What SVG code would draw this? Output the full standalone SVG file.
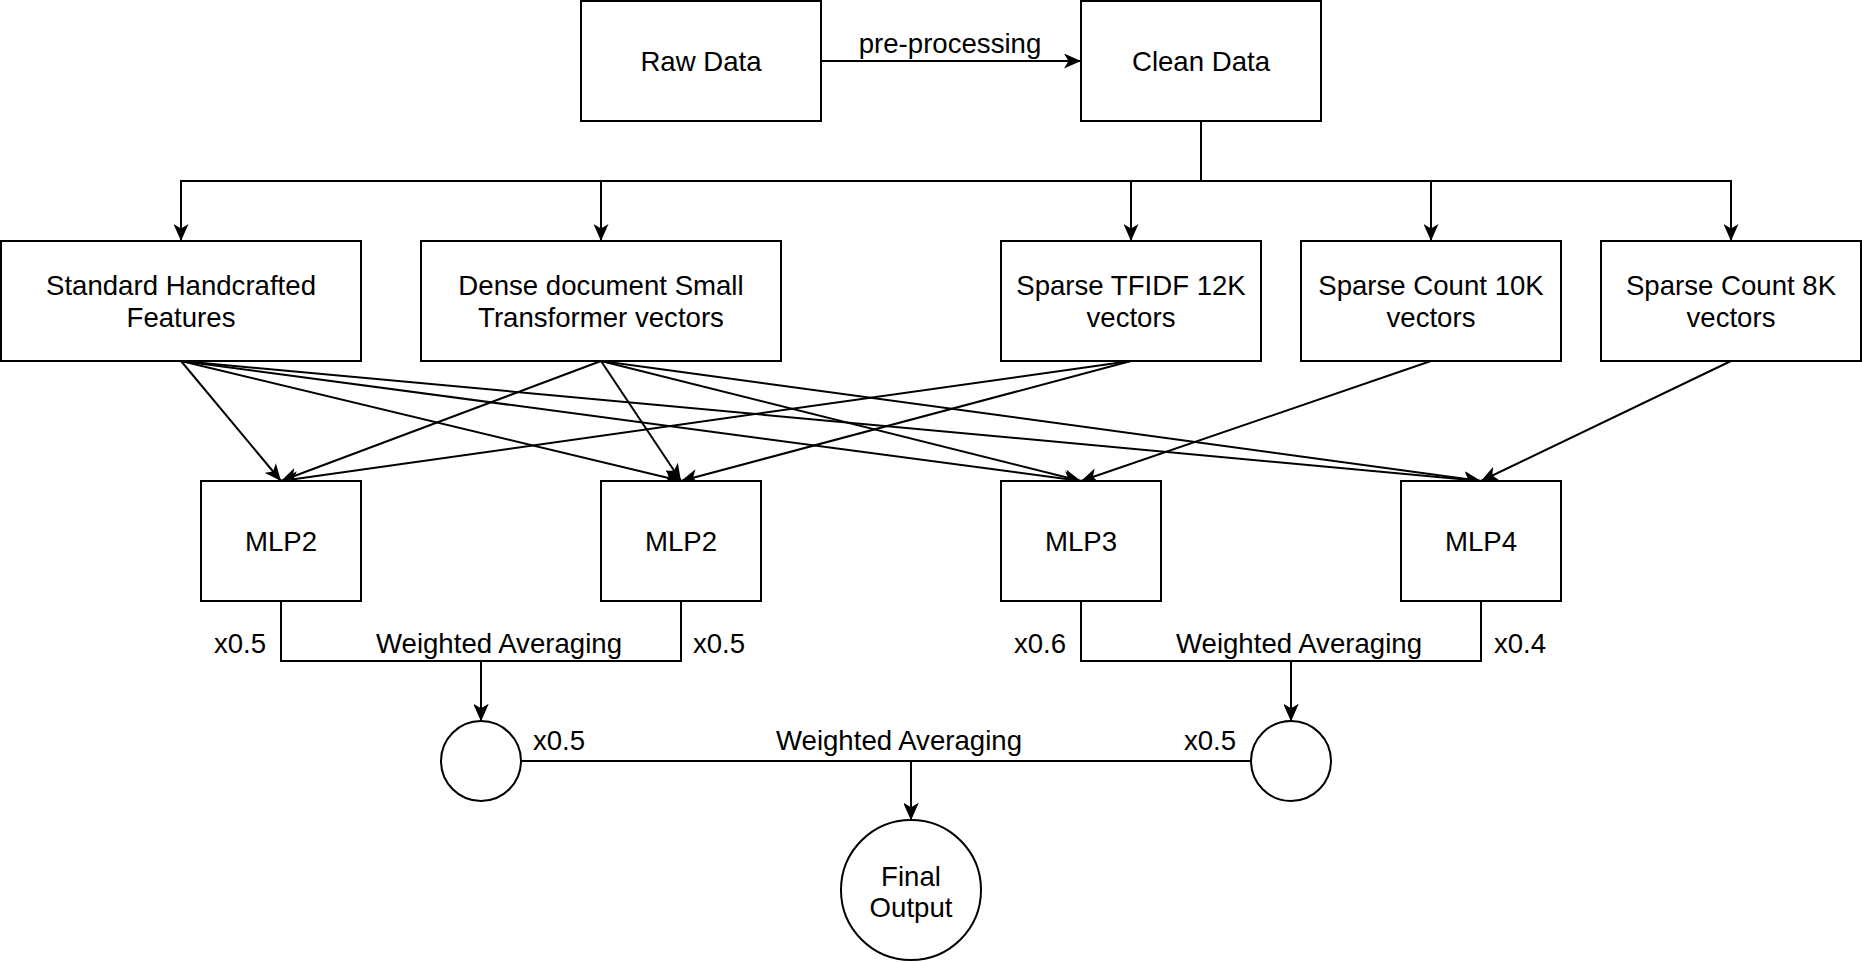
<svg xmlns="http://www.w3.org/2000/svg" width="1862" height="962" viewBox="0 0 1862 962">
<style>
.n{fill:#fff;stroke:#000;stroke-width:2}
.t{font-family:"Liberation Sans",Arial,Helvetica,sans-serif;font-size:27.6px;fill:#000;text-anchor:middle}
.e{fill:none;stroke:#000;stroke-width:2}
</style>
<defs>
<marker id="arr" viewBox="0 0 17 15" refX="17" refY="7.5" markerWidth="17" markerHeight="15" markerUnits="userSpaceOnUse" orient="auto">
<path d="M17,7.5 L0,0 L4.5,7.5 L0,15 Z" fill="#000"/>
</marker>
</defs>
<rect width="1862" height="962" fill="#fff"/>
<g id="connectors">
<path class="e" d="M821,61 H1081" marker-end="url(#arr)"/>
<path class="e" d="M1201,121 V181 H181 V241" marker-end="url(#arr)"/>
<path class="e" d="M1201,181 H601 V241" marker-end="url(#arr)"/>
<path class="e" d="M1201,181 H1131 V241" marker-end="url(#arr)"/>
<path class="e" d="M1201,181 H1431 V241" marker-end="url(#arr)"/>
<path class="e" d="M1201,181 H1731 V241" marker-end="url(#arr)"/>
<path class="e" d="M181,361 L281,481" marker-end="url(#arr)"/>
<path class="e" d="M181,361 L681,481" marker-end="url(#arr)"/>
<path class="e" d="M181,361 L1081,481" marker-end="url(#arr)"/>
<path class="e" d="M181,361 L1481,481" marker-end="url(#arr)"/>
<path class="e" d="M601,361 L281,481" marker-end="url(#arr)"/>
<path class="e" d="M601,361 L681,481" marker-end="url(#arr)"/>
<path class="e" d="M601,361 L1081,481" marker-end="url(#arr)"/>
<path class="e" d="M601,361 L1481,481" marker-end="url(#arr)"/>
<path class="e" d="M1131,361 L281,481" marker-end="url(#arr)"/>
<path class="e" d="M1131,361 L681,481" marker-end="url(#arr)"/>
<path class="e" d="M1431,361 L1081,481" marker-end="url(#arr)"/>
<path class="e" d="M1731,361 L1481,481" marker-end="url(#arr)"/>
<path class="e" d="M281,601 V661 H481 V721" marker-end="url(#arr)"/>
<path class="e" d="M681,601 V661 H481 V721" marker-end="url(#arr)"/>
<path class="e" d="M1081,601 V661 H1291 V721" marker-end="url(#arr)"/>
<path class="e" d="M1481,601 V661 H1291 V721" marker-end="url(#arr)"/>
<path class="e" d="M521,761 H911 V820" marker-end="url(#arr)"/>
<path class="e" d="M1251,761 H911 V820" marker-end="url(#arr)"/>
</g>
<g id="edge-labels">
<text class="t" x="950" y="53">pre-processing</text>
<text class="t" x="240" y="653">x0.5</text>
<text class="t" x="499" y="653">Weighted Averaging</text>
<text class="t" x="719" y="653">x0.5</text>
<text class="t" x="1040" y="653">x0.6</text>
<text class="t" x="1299" y="653">Weighted Averaging</text>
<text class="t" x="1520" y="653">x0.4</text>
<text class="t" x="559" y="750">x0.5</text>
<text class="t" x="899" y="750">Weighted Averaging</text>
<text class="t" x="1210" y="750">x0.5</text>
</g>
<g id="raw-data"><rect class="n" x="581" y="1" width="240" height="120"/><text class="t" x="701" y="71">Raw Data</text></g>
<g id="clean-data"><rect class="n" x="1081" y="1" width="240" height="120"/><text class="t" x="1201" y="71">Clean Data</text></g>
<g id="handcrafted"><rect class="n" x="1" y="241" width="360" height="120"/><text class="t" x="181" y="295">Standard Handcrafted</text><text class="t" x="181" y="327">Features</text></g>
<g id="dense"><rect class="n" x="421" y="241" width="360" height="120"/><text class="t" x="601" y="295">Dense document Small</text><text class="t" x="601" y="327">Transformer vectors</text></g>
<g id="tfidf"><rect class="n" x="1001" y="241" width="260" height="120"/><text class="t" x="1131" y="295">Sparse TFIDF 12K</text><text class="t" x="1131" y="327">vectors</text></g>
<g id="count10k"><rect class="n" x="1301" y="241" width="260" height="120"/><text class="t" x="1431" y="295">Sparse Count 10K</text><text class="t" x="1431" y="327">vectors</text></g>
<g id="count8k"><rect class="n" x="1601" y="241" width="260" height="120"/><text class="t" x="1731" y="295">Sparse Count 8K</text><text class="t" x="1731" y="327">vectors</text></g>
<g id="mlp2a"><rect class="n" x="201" y="481" width="160" height="120"/><text class="t" x="281" y="551">MLP2</text></g>
<g id="mlp2b"><rect class="n" x="601" y="481" width="160" height="120"/><text class="t" x="681" y="551">MLP2</text></g>
<g id="mlp3"><rect class="n" x="1001" y="481" width="160" height="120"/><text class="t" x="1081" y="551">MLP3</text></g>
<g id="mlp4"><rect class="n" x="1401" y="481" width="160" height="120"/><text class="t" x="1481" y="551">MLP4</text></g>
<g id="avg-left"><circle class="n" cx="481" cy="761" r="40"/></g>
<g id="avg-right"><circle class="n" cx="1291" cy="761" r="40"/></g>
<g id="final-output"><circle class="n" cx="911" cy="890" r="70"/><text class="t" x="911" y="886">Final</text><text class="t" x="911" y="917">Output</text></g>
</svg>
